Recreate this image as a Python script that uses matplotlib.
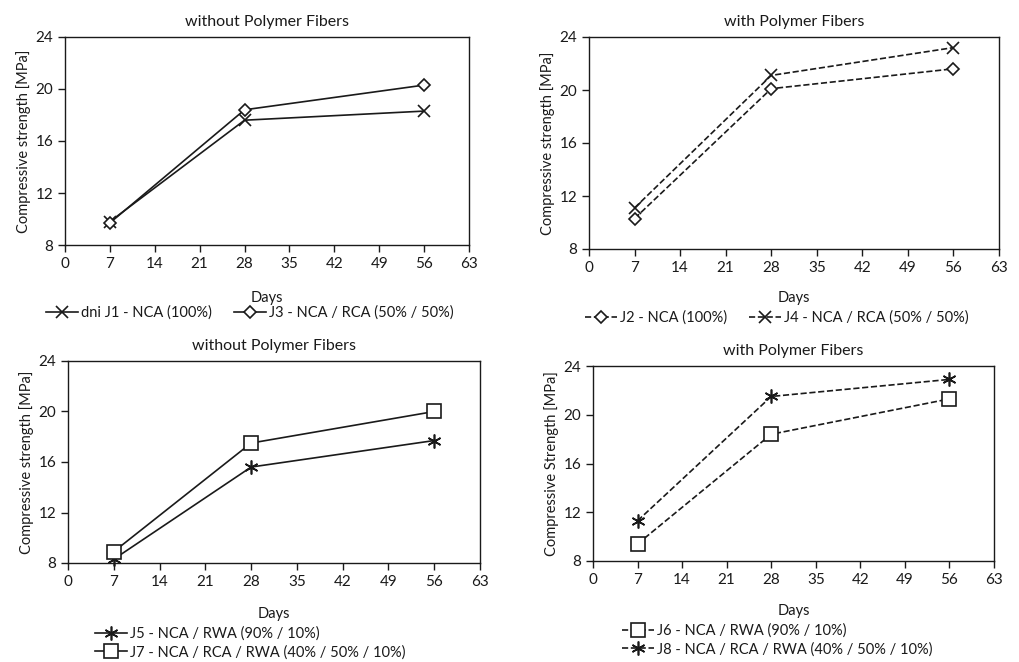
import matplotlib
matplotlib.use("Agg")
import matplotlib.pyplot as plt

plt.rcParams['font.family'] = ['Lato', 'DejaVu Sans']
plt.rcParams['font.size'] = 10

days = [7, 28, 56]
x_ticks = [0, 7, 14, 21, 28, 35, 42, 49, 56, 63]
y_ticks = [8, 12, 16, 20, 24]

# strengths in MPa
j1 = [9.8, 17.6, 18.3]
j3 = [9.7, 18.4, 20.3]
j2 = [10.3, 20.1, 21.6]
j4 = [11.1, 21.1, 23.2]
j5 = [8.3, 15.6, 17.7]
j7 = [8.9, 17.5, 20.0]
j6 = [9.4, 18.4, 21.3]
j8 = [11.3, 21.5, 22.9]

titles = ["without Polymer Fibers", "with Polymer Fibers",
          "without Polymer Fibers", "with Polymer Fibers"]
ylabels = ["Compressive strength [MPa]", "Compressive strength [MPa]",
           "Compressive strength [MPa]", "Compressive Strength [MPa]"]

ink = '#1a1a1a'
asterisk = (6, 2, 0)

fig = plt.figure(figsize=(10.2, 6.62), dpi=100)


def px_axes(left, top, right, bottom):
    W, H = 1020, 662
    return fig.add_axes([left / W, 1 - bottom / H, (right - left) / W, (bottom - top) / H])


def style(ax, title, ylabel, xlabel_y):
    ax.set_xlim(0, 63)
    ax.set_ylim(8, 24)
    ax.set_xticks(x_ticks)
    ax.set_yticks(y_ticks)
    ax.tick_params(direction='out', length=5, width=1, colors=ink, labelsize=11)
    for s in ax.spines.values():
        s.set_color(ink)
        s.set_linewidth(1)
    ax.set_title(title, fontsize=11.5, color=ink, pad=8)
    ax.set_ylabel(ylabel, fontsize=10.5, color=ink, labelpad=3)
    ax.set_xlabel("Days", fontsize=10.5, color=ink)
    ax.xaxis.set_label_coords(0.5, xlabel_y)


series = [
    # (axes box, data, markers, sizes, labels, linestyle, legend center, ncol, xlabel y)
    ((65, 37, 469, 245), [j1, j3], ['x', 'D'], [9, 6],
     ["dni J1 - NCA (100%)", "J3 - NCA / RCA (50% / 50%)"], '-', (250, 313), 2, -0.22),
    ((589, 37, 999, 249), [j2, j4], ['D', 'x'], [6, 9],
     ["J2 - NCA (100%)", "J4 - NCA / RCA (50% / 50%)"], '--', (777, 318), 2, -0.2),
    ((68, 361, 480, 563), [j5, j7], [asterisk, 's'], [10, 10],
     ["J5 - NCA / RWA (90% / 10%)", "J7 - NCA / RCA / RWA (40% / 50% / 10%)"], '-', (250, 643), 1, -0.22),
    ((593, 366, 994, 561), [j6, j8], ['s', asterisk], [10, 10],
     ["J6 - NCA / RWA (90% / 10%)", "J8 - NCA / RCA / RWA (40% / 50% / 10%)"], '--', (777, 640), 1, -0.22),
]

for i, (box, data, markers, sizes, labels, ls, leg_c, ncol, xl_y) in enumerate(series):
    ax = px_axes(*box)
    for vals, m, ms, lab in zip(data, markers, sizes, labels):
        ax.plot(days, vals, color=ink, linestyle=ls, linewidth=1.2, marker=m,
                markersize=ms, markerfacecolor='white', markeredgecolor=ink,
                markeredgewidth=1.2, label=lab, clip_on=False)
    style(ax, titles[i], ylabels[i], xl_y)
    fig.legend(loc='center', bbox_to_anchor=(leg_c[0] / 1020, 1 - leg_c[1] / 662),
               ncol=ncol, frameon=False, fontsize=10.5, handlelength=2.2,
               handletextpad=0.2, columnspacing=1.5, labelspacing=0.3,
               labelcolor=ink, handles=ax.get_lines())

fig.savefig("out.png", dpi=100)
